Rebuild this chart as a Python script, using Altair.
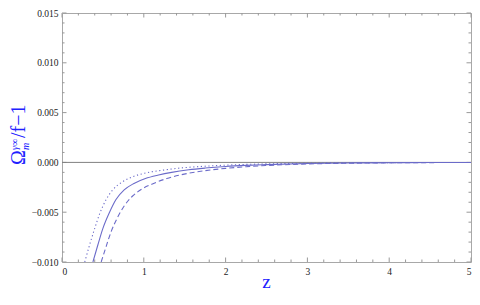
import altair as alt
import pandas as pd

# ---- data ----
z_solid = [0.378, 0.439, 0.499, 0.58, 0.66, 0.76, 0.88, 1.02, 1.18, 1.34, 1.55, 1.75, 2.0, 2.25, 2.5, 3.0, 3.5, 4.0, 4.5, 5.0]
v_solid = [-0.0100, -0.00827, -0.00665, -0.00503, -0.00373, -0.00276, -0.00211, -0.00162, -0.00127, -0.00100, -0.00074, -0.00057, -0.00041, -0.00030, -0.00022, -0.00011, -0.00006, -0.00003, -0.000015, -0.00001]

z_dot = [0.278, 0.338, 0.399, 0.459, 0.54, 0.62, 0.74, 0.88, 1.02, 1.22, 1.51, 1.75, 2.0, 2.25, 2.5, 3.0, 3.5, 4.0, 4.5, 5.0]
v_dot = [-0.0100, -0.00827, -0.00665, -0.00519, -0.00373, -0.00276, -0.00195, -0.00139, -0.00107, -0.00079, -0.00052, -0.00038, -0.00028, -0.00020, -0.00015, -0.00007, -0.00004, -0.00002, -0.00001, -0.000005]

z_dash = [0.479, 0.54, 0.60, 0.68, 0.76, 0.86, 0.98, 1.12, 1.28, 1.45, 1.65, 1.85, 2.0, 2.25, 2.5, 3.0, 3.5, 4.0, 4.5, 5.0]
v_dash = [-0.0100, -0.00843, -0.00697, -0.00551, -0.00438, -0.00340, -0.00266, -0.00211, -0.00162, -0.00125, -0.00095, -0.00073, -0.00060, -0.00043, -0.00031, -0.00016, -0.00008, -0.00004, -0.00002, -0.00001]

x_major = [0, 1, 2, 3, 4, 5]
x_minor = [round(i * 0.2, 1) for i in range(26) if i % 5 != 0]
y_major = [-0.010, -0.005, 0.0, 0.005, 0.010, 0.015]
y_minor = [round(-0.010 + i * 0.001, 3) for i in range(26) if i % 5 != 0]

W, H = 409, 249
LINE = "#6b6bc9"
FRAME = "#a8a8a8"
TICK = "#999999"
BLUE = "#2020ff"
SERIF = "Liberation Serif"

xs = alt.Scale(domain=[0, 5], nice=False, zero=False)
ys = alt.Scale(domain=[-0.010, 0.015], nice=False, zero=False)

def curve(zs, vs, dash):
    df = pd.DataFrame({"z": zs, "v": vs})
    kw = {"strokeDash": dash} if dash else {}
    return alt.Chart(df).mark_line(color=LINE, strokeWidth=1.1, interpolate="monotone", clip=True, **kw).encode(
        x=alt.X("z:Q", scale=xs), y=alt.Y("v:Q", scale=ys)
    )

# axes (labels only; frame ticks drawn separately)
base = alt.Chart(pd.DataFrame({"z": [0, 5], "v": [-0.010, 0.015]})).mark_point(opacity=0).encode(
    x=alt.X("z:Q", scale=xs, axis=alt.Axis(values=x_major, format="d", ticks=False, domain=False, grid=False,
                                          labelFont=SERIF, labelFontSize=9.5, labelColor="#222", labelPadding=4,
                                          title=None)),
    y=alt.Y("v:Q", scale=ys, axis=alt.Axis(values=y_major, format=".3f", ticks=False, domain=False, grid=False,
                                          labelFont=SERIF, labelFontSize=9.5, labelColor="#222", labelPadding=4,
                                          title=None)),
)

zero = alt.Chart(pd.DataFrame({"v": [0.0]})).mark_rule(color="#808080", strokeWidth=1).encode(y=alt.Y("v:Q", scale=ys))

def xticks(vals, length):
    df = pd.DataFrame({"z": vals})
    bot = alt.Chart(df).mark_rule(color=TICK, strokeWidth=1).encode(
        x=alt.X("z:Q", scale=xs), y=alt.value(H), y2=alt.value(H - length))
    top = alt.Chart(df).mark_rule(color=TICK, strokeWidth=1).encode(
        x=alt.X("z:Q", scale=xs), y=alt.value(0), y2=alt.value(length))
    return bot + top

def yticks(vals, length):
    df = pd.DataFrame({"v": vals})
    left = alt.Chart(df).mark_rule(color=TICK, strokeWidth=1).encode(
        y=alt.Y("v:Q", scale=ys), x=alt.value(0), x2=alt.value(length))
    right = alt.Chart(df).mark_rule(color=TICK, strokeWidth=1).encode(
        y=alt.Y("v:Q", scale=ys), x=alt.value(W), x2=alt.value(W - length))
    return left + right

def ttext(txt, x, y, size, italic=False, angle=270):
    return alt.Chart(pd.DataFrame({"t": [txt]})).mark_text(
        font=SERIF, fontSize=size, color=BLUE, angle=angle, align="left" if angle else "center",
        baseline="alphabetic", fontStyle="italic" if italic else "normal"
    ).encode(x=alt.value(x), y=alt.value(y), text="t:N")

PADL, PADT = 54, 5
OX, OY = 8 + PADL, 8 + PADT  # plot origin on page
title = (
    ttext("Ω", 25 - OX, 165 - OY, 20)
    + ttext("m", 29 - OX, 150 - OY, 10, True)
    + ttext("γ∞", 18 - OX, 150 - OY, 10, True)
    + ttext("/f−1", 25 - OX, 138 - OY, 20)
)
xtitle = ttext("z", W / 2, 288 - OY, 19, angle=0)

chart = alt.layer(
    base,
    xticks(x_minor, 2.5), xticks(x_major, 4.5),
    yticks(y_minor, 2.5), yticks(y_major, 4.5),
    zero,
    curve(z_dot, v_dot, [1.2, 2.6]),
    curve(z_dash, v_dash, [5, 3]),
    curve(z_solid, v_solid, None),
    title, xtitle,
).properties(
    width=W, height=H,
    autosize=alt.AutoSizeParams(type="none"),
    padding={"left": PADL, "top": PADT, "right": 1, "bottom": 31},
).configure_view(stroke=FRAME, strokeWidth=1)

chart.save("out.html", embed_options={"renderer": "svg", "actions": False})
